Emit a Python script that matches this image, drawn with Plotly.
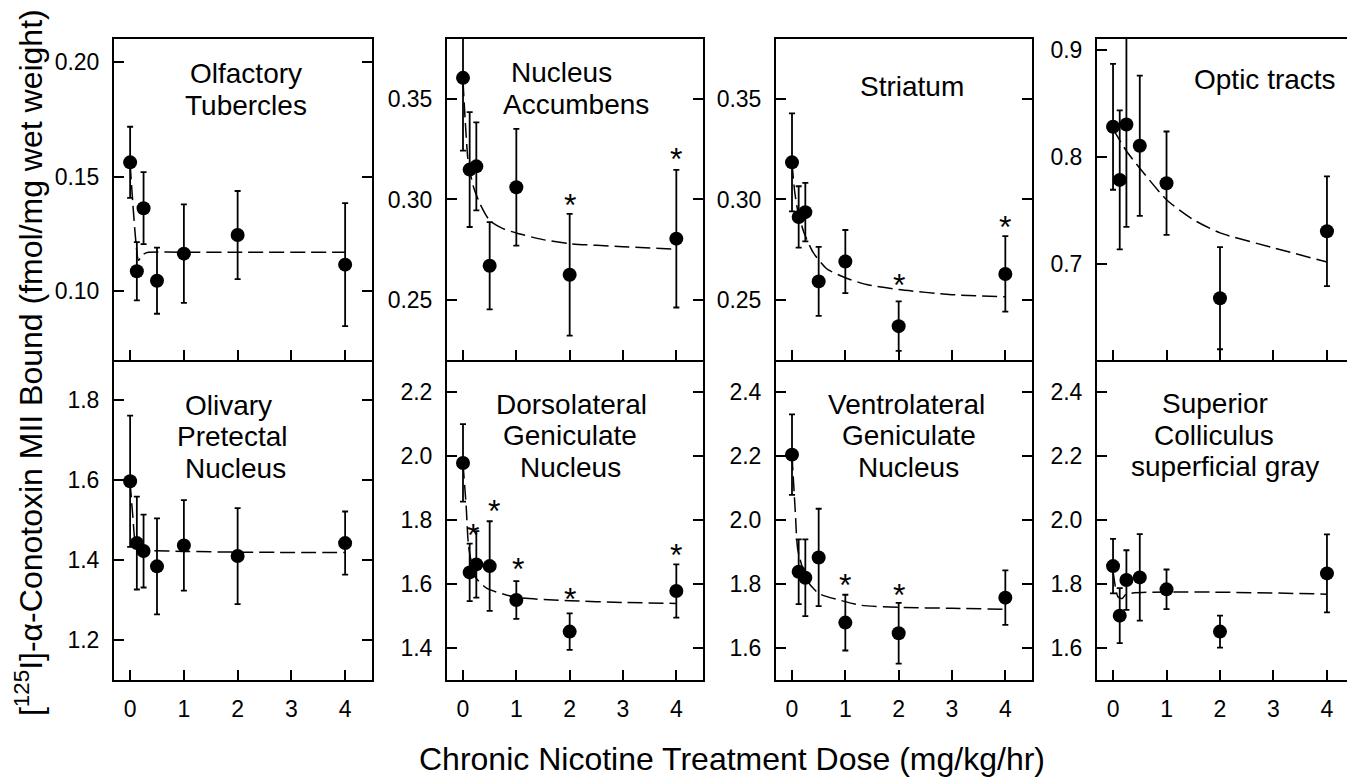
import plotly.graph_objects as go

# ---------------- data ----------------
doses = [0, 0.125, 0.25, 0.5, 1, 2, 4]
x_ticks = [0, 1, 2, 3, 4]

olf_mean = [0.1562, 0.1087, 0.1362, 0.1046, 0.1164, 0.1245, 0.1116]
olf_err = [0.0155, 0.0127, 0.0157, 0.0144, 0.0215, 0.0192, 0.0268]
olf_fit_x = [0, 0.155, 0.19, 0.25, 0.32, 1, 2, 4]
olf_fit_y = [0.1555, 0.1135, 0.1145, 0.1162, 0.1169, 0.1170, 0.1170, 0.1170]

acc_mean = [0.3606, 0.3149, 0.3165, 0.2670, 0.3061, 0.2625, 0.2805]
acc_err = [0.0363, 0.0286, 0.0219, 0.0217, 0.0291, 0.0303, 0.0343]
acc_fit_x = [0, 0.04, 0.1, 0.2, 0.325, 0.5, 0.75, 1, 1.5, 2, 3, 4]
acc_fit_y = [0.359, 0.340, 0.318, 0.306, 0.2975, 0.2895, 0.2855, 0.2833, 0.2800, 0.2780, 0.2765, 0.2752]

str_mean = [0.3185, 0.2913, 0.2937, 0.2592, 0.2691, 0.2369, 0.2629]
str_err = [0.0244, 0.0153, 0.0146, 0.0172, 0.0157, 0.0123, 0.0188]
str_fit_x = [0, 0.05, 0.1, 0.22, 0.4, 0.65, 1, 1.4, 2, 3, 4]
str_fit_y = [0.318, 0.304, 0.2955, 0.2838, 0.2735, 0.2655, 0.2610, 0.2576, 0.2551, 0.2526, 0.2515]

opt_mean = [0.8279, 0.7783, 0.8300, 0.8102, 0.7752, 0.6678, 0.7303]
opt_err = [0.0588, 0.0649, 0.0956, 0.0655, 0.0483, 0.0477, 0.0513]
opt_fit_x = [0, 0.25, 0.5, 1, 1.5, 2, 3, 4]
opt_fit_y = [0.8257, 0.8053, 0.7892, 0.7598, 0.7412, 0.7288, 0.7149, 0.7016]

oli_mean = [1.5973, 1.4427, 1.4228, 1.3846, 1.4369, 1.4103, 1.4427]
oli_err = [0.164, 0.116, 0.091, 0.120, 0.113, 0.120, 0.079]
oli_fit_x = [0, 0.05, 0.11, 0.2, 0.4, 1, 2, 4]
oli_fit_y = [1.595, 1.51, 1.435, 1.426, 1.424, 1.422, 1.420, 1.419]

dlg_mean = [1.9787, 1.6369, 1.6618, 1.6566, 1.5506, 1.4519, 1.5787]
dlg_err = [0.121, 0.090, 0.104, 0.140, 0.059, 0.057, 0.083]
dlg_fit_x = [0, 0.06, 0.106, 0.23, 0.45, 1, 2, 3, 4]
dlg_fit_y = [1.977, 1.842, 1.717, 1.623, 1.587, 1.559, 1.5486, 1.543, 1.540]

vlg_mean = [2.2047, 1.8390, 1.8203, 1.8836, 1.6800, 1.6468, 1.7580]
vlg_err = [0.126, 0.101, 0.120, 0.152, 0.087, 0.095, 0.085]
vlg_fit_x = [0, 0.06, 0.11, 0.28, 0.5, 1, 1.3, 2, 3, 4]
vlg_fit_y = [2.2026, 2.031, 1.9065, 1.813, 1.7714, 1.7455, 1.734, 1.7278, 1.7247, 1.7216]

scs_mean = [1.8566, 1.7018, 1.8130, 1.8213, 1.7839, 1.6519, 1.8338]
scs_err = [0.085, 0.086, 0.093, 0.135, 0.062, 0.050, 0.122]
scs_fit_x = [0, 0.09, 0.17, 0.25, 4]
scs_fit_y = [1.840, 1.761, 1.755, 1.769, 1.769]

# significance asterisks (x, y) per panel
acc_star_x = [2, 4]
acc_star_y = [0.3008, 0.3236]
str_star_x = [2, 4]
str_star_y = [0.2609, 0.2899]
dlg_star_x = [0.19, 0.575, 1.03, 2, 4]
dlg_star_y = [1.774, 1.852, 1.670, 1.5766, 1.7117]
vlg_star_x = [1, 2]
vlg_star_y = [1.8182, 1.7891]

titles = [
    ["Olfactory", "Tubercles"],
    ["Nucleus", "Accumbens"],
    ["Striatum"],
    ["Optic tracts"],
    ["Olivary", "Pretectal", "Nucleus"],
    ["Dorsolateral", "Geniculate", "Nucleus"],
    ["Ventrolateral", "Geniculate", "Nucleus"],
    ["Superior", "Colliculus", "superficial gray"],
]

y_ranges = [[0.07, 0.21], [0.22, 0.38], [0.22, 0.38], [0.61, 0.91],
            [1.1, 1.9], [1.3, 2.3], [1.5, 2.5], [1.5, 2.5]]
y_ticks = [[0.10, 0.15, 0.20], [0.25, 0.30, 0.35], [0.25, 0.30, 0.35], [0.7, 0.8, 0.9],
           [1.2, 1.4, 1.6, 1.8], [1.4, 1.6, 1.8, 2.0, 2.2], [1.6, 1.8, 2.0, 2.2, 2.4],
           [1.6, 1.8, 2.0, 2.2, 2.4]]
y_fmt = [".2f", ".2f", ".2f", ".1f", ".1f", ".1f", ".1f", ".1f"]

means = [olf_mean, acc_mean, str_mean, opt_mean, oli_mean, dlg_mean, vlg_mean, scs_mean]
errs = [olf_err, acc_err, str_err, opt_err, oli_err, dlg_err, vlg_err, scs_err]
fits_x = [olf_fit_x, acc_fit_x, str_fit_x, opt_fit_x, oli_fit_x, dlg_fit_x, vlg_fit_x, scs_fit_x]
fits_y = [olf_fit_y, acc_fit_y, str_fit_y, opt_fit_y, oli_fit_y, dlg_fit_y, vlg_fit_y, scs_fit_y]
stars = {1: (acc_star_x, acc_star_y), 2: (str_star_x, str_star_y),
         5: (dlg_star_x, dlg_star_y), 6: (vlg_star_x, vlg_star_y)}

# ---------------- layout geometry (pixels) ----------------
W, H = 1347, 777
col_px = [(114, 372), (447, 703), (776, 1032), (1097, 1347)]
row_px = [(37, 359), (359, 680)]
x_range_std = [-0.3, 4.5]
x_range_last = [-0.3, 4.375]

title_x_px = [[246, 246], [561, 576], [912], [1265],
              [228, 232, 236], [571, 570, 570], [906, 909, 908], [1215, 1214, 1225]]
title_y_px = [[69, 101], [68, 100], [82], [75],
              [402, 433, 465], [401, 432, 464], [401, 432, 464], [400, 432, 463]]

FONT = "Liberation Sans, Arial, Helvetica, sans-serif"

fig = go.Figure()
annotations = []
layout = dict(
    width=W, height=H, margin=dict(l=0, r=0, t=0, b=0),
    paper_bgcolor="white", plot_bgcolor="white", showlegend=False,
    font=dict(family=FONT, color="black"),
)

for i in range(8):
    r, c = divmod(i, 4)
    k = i + 1
    xa = "x" if k == 1 else f"x{k}"
    ya = "y" if k == 1 else f"y{k}"
    x0, x1 = col_px[c]
    yt, yb = row_px[r]
    layout["xaxis" if k == 1 else f"xaxis{k}"] = dict(
        domain=[x0 / W, x1 / W], anchor=ya,
        range=x_range_last if c == 3 else x_range_std,
        tickvals=x_ticks, ticks="inside", ticklen=10, tickwidth=1.6, tickcolor="black",
        showline=True, linecolor="black", linewidth=2, mirror=(r == 0),
        showgrid=False, zeroline=False, showticklabels=(r == 1),
        tickfont=dict(size=23, family=FONT, color="black"), ticklabelstandoff=7,
    )
    layout["yaxis" if k == 1 else f"yaxis{k}"] = dict(
        domain=[1 - yb / H, 1 - yt / H], anchor=xa,
        range=y_ranges[i], tickvals=y_ticks[i], tickformat=y_fmt[i],
        ticks="inside", ticklen=10, tickwidth=1.6, tickcolor="black",
        showline=True, linecolor="black", linewidth=2,
        mirror=("ticks" if c != 3 else False),
        showgrid=False, zeroline=False,
        tickfont=dict(size=23, family=FONT, color="black"), ticklabelstandoff=8,
    )

    fig.add_trace(go.Scatter(
        x=fits_x[i], y=fits_y[i], mode="lines", xaxis=xa, yaxis=ya,
        line=dict(color="black", width=1.5, dash="15px,6px", shape="spline", smoothing=0.6),
        hoverinfo="skip",
    ))
    fig.add_trace(go.Scatter(
        x=doses, y=means[i], mode="markers", xaxis=xa, yaxis=ya,
        marker=dict(color="black", size=14),
        error_y=dict(type="data", array=errs[i], visible=True,
                     color="black", thickness=1.8, width=3),
    ))

    for line, lx, ly in zip(titles[i], title_x_px[i], title_y_px[i]):
        annotations.append(dict(
            text=line, x=lx / W, y=1 - ly / H, xref="paper", yref="paper",
            xanchor="center", yanchor="middle", showarrow=False,
            font=dict(size=28, family=FONT, color="black"), yshift=-3,
        ))

    if i in stars:
        sx, sy = stars[i]
        for a, b in zip(sx, sy):
            annotations.append(dict(
                text="*", x=a, y=b, xref=xa, yref=ya, showarrow=False,
                xanchor="center", yanchor="middle",
                font=dict(size=32, family=FONT, color="black"), yshift=-7,
            ))

annotations.append(dict(
    text="Chronic Nicotine Treatment Dose (mg/kg/hr)", x=732 / W, y=1 - 759 / H,
    xref="paper", yref="paper", xanchor="center", yanchor="middle", showarrow=False,
    font=dict(size=32, family=FONT, color="black"),
))
annotations.append(dict(
    text="[<sup>125</sup>I]-α-Conotoxin MII Bound (fmol/mg wet weight)",
    x=29 / W, y=1 - 362 / H, xref="paper", yref="paper", textangle=-90,
    xanchor="center", yanchor="middle", showarrow=False,
    font=dict(size=32, family=FONT, color="black"),
))

layout["annotations"] = annotations
fig.update_layout(**layout)
fig.write_html("out.html")
